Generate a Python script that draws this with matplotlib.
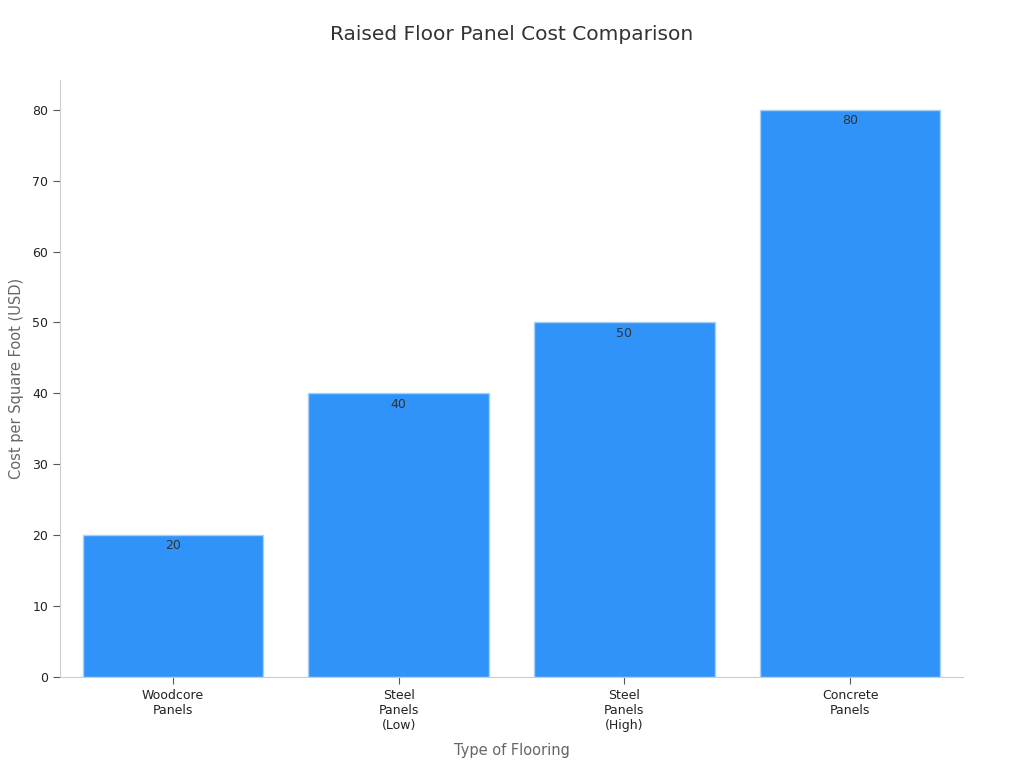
import matplotlib
matplotlib.use("Agg")
import matplotlib.pyplot as plt

# chart data
categories = ["Woodcore\nPanels", "Steel\nPanels\n(Low)", "Steel\nPanels\n(High)", "Concrete\nPanels"]
costs = [20, 40, 50, 80]

fig = plt.figure(figsize=(10.24, 7.68), dpi=100)
ax = fig.add_axes([0.0586, 0.1185, 0.8818, 0.7773])

bars = ax.bar(range(len(categories)), costs, width=0.8, color="#2f93f9",
              edgecolor="#a9d0f7", linewidth=1)

# value labels just inside the top of each bar
for b, v in zip(bars, costs):
    ax.text(b.get_x() + b.get_width() / 2, v - 0.6, str(v), ha="center", va="top",
            fontsize=9, color="#333333")

ax.set_xlim(-0.5, 3.5)
ax.set_ylim(0, 84.2)
ax.set_xticks(range(len(categories)))
ax.set_xticklabels(categories, fontsize=9, color="#222222")
ax.set_yticks(range(0, 81, 10))
ax.tick_params(axis="y", labelsize=9, colors="#222222")
ax.tick_params(axis="both", color="#555555", length=5)

for s in ["top", "right"]:
    ax.spines[s].set_visible(False)
ax.spines["left"].set_color("#cccccc")
ax.spines["bottom"].set_color("#cccccc")

ax.set_xlabel("Type of Flooring", fontsize=10.5, color="#666666", labelpad=8)
ax.set_ylabel("Cost per Square Foot (USD)", fontsize=10.5, color="#666666", labelpad=6)
fig.suptitle("Raised Floor Panel Cost Comparison", fontsize=14.5, color="#333333", y=0.968)

fig.savefig("out.png", dpi=100)
